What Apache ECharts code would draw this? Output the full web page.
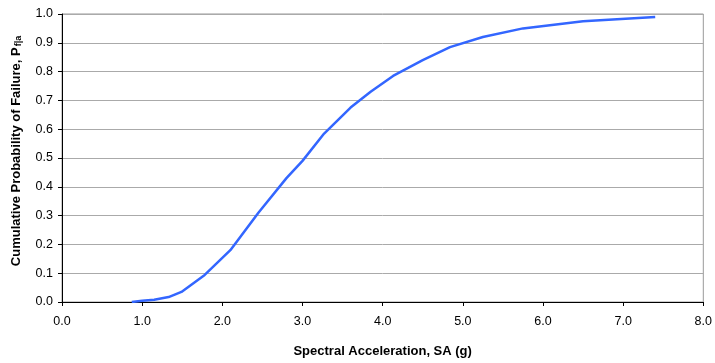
<!DOCTYPE html>
<html><head><meta charset="utf-8">
<script src="https://cdn.jsdelivr.net/npm/echarts@6/dist/echarts.min.js"></script>
<style>html,body{margin:0;padding:0;background:#fff}#c{width:715px;height:363px}</style>
</head><body><div id="c"></div>
<script>
const saValues = [0.87, 1.0, 1.15, 1.33, 1.49, 1.78, 2.1, 2.45, 2.8, 3.0, 3.27, 3.6, 3.85, 4.13, 4.5, 4.84, 5.25, 5.75, 6.5, 7.4];
const probValues = [0.0, 0.004, 0.008, 0.017, 0.035, 0.094, 0.18, 0.31, 0.43, 0.49, 0.585, 0.675, 0.73, 0.785, 0.84, 0.885, 0.92, 0.95, 0.975, 0.99];
const xTitle = 'Spectral Acceleration, SA (g)';
const yTitle = '{t|Cumulative Probability of Failure, P}{s|f|a}';

const chart = echarts.init(document.getElementById('c'));
const font = 'Liberation Sans, Arial, sans-serif';
chart.setOption({
  animation: false,
  grid: {left: 62, right: 10, top: 14, bottom: 59, show: true, borderColor: '#999', borderWidth: 1},
  xAxis: {
    type: 'value', min: 0, max: 8, interval: 1,
    name: xTitle, nameLocation: 'middle', nameGap: 43,
    nameTextStyle: {fontFamily: font, fontSize: 13, fontWeight: 'bold', color: '#000'},
    axisLine: {show: true, lineStyle: {color: '#000', width: 1}},
    axisTick: {show: true, length: 4, lineStyle: {color: '#000'}},
    axisLabel: {fontFamily: font, fontSize: 12.5, color: '#000', margin: 13, formatter: v => v.toFixed(1)},
    splitLine: {show: false}
  },
  yAxis: {
    type: 'value', min: 0, max: 1, interval: 0.1,
    name: yTitle, nameLocation: 'middle', nameGap: 39, nameRotate: 90,
    nameTextStyle: {
      fontFamily: font, fontSize: 13, fontWeight: 'bold', color: '#000',
      padding: [0, 0, 0, 14],
      rich: {
        t: {fontFamily: font, fontSize: 13, fontWeight: 'bold', color: '#000'},
        s: {fontFamily: font, fontSize: 9, fontWeight: 'bold', color: '#000', verticalAlign: 'bottom', padding: [5, 0, 0, 1]}
      }
    },
    axisLine: {show: true, lineStyle: {color: '#000', width: 1}},
    axisTick: {show: true, length: 4, lineStyle: {color: '#000'}},
    axisLabel: {fontFamily: font, fontSize: 12.5, color: '#000', margin: 9, formatter: v => v.toFixed(1)},
    splitLine: {show: true, lineStyle: {color: '#aaa', width: 1}}
  },
  series: [{
    type: 'line',
    data: saValues.map((x, i) => [x, probValues[i]]),
    showSymbol: false,
    smooth: false,
    lineStyle: {color: '#3366ff', width: 2.5}
  }]
});
</script></body></html>
